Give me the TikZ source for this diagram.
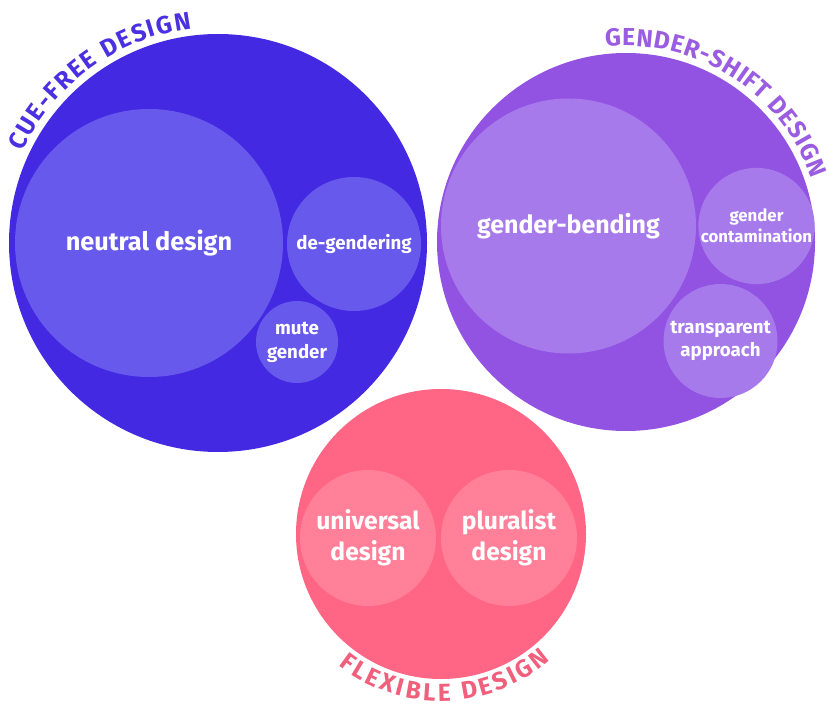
\documentclass[tikz,border=0pt]{standalone}
\usepackage{fontspec}
\setmainfont{Fira Sans}
\usetikzlibrary{calc,decorations.text}

\definecolor{cueOuter}{HTML}{4329E2}
\definecolor{cueInner}{HTML}{6759EC}
\definecolor{shiftOuter}{HTML}{9253E3}
\definecolor{shiftInner}{HTML}{A77AEC}
\definecolor{flexOuter}{HTML}{FF6584}
\definecolor{flexInner}{HTML}{FF8098}
\definecolor{cueLabel}{HTML}{4A30E0}
\definecolor{shiftLabel}{HTML}{9A5CE0}
\definecolor{flexLabel}{HTML}{F0607C}

\newcommand{\arclabelfont}{\bfseries\fontsize{18.5pt}{21pt}\selectfont}

\begin{document}
\begin{tikzpicture}[x=0.75pt,y=0.75pt,
  bubble/.style={circle, draw=none, inner sep=0pt, text=white, align=center,
    font=\bfseries},
  arclabel/.style={decorate, decoration={text along path, text align={fit to path}}}]
\useasboundingbox (0,0) rectangle (827,704);

% outer groups
\node[bubble, fill=cueOuter,   minimum size=313.5pt] (cue)   at (218,461) {};
\node[bubble, fill=shiftOuter, minimum size=283.5pt] (shift) at (626,462) {};
\node[bubble, fill=flexOuter,  minimum size=217.5pt] (flex)  at (441,170) {};

% cue-free design members
\node[bubble, fill=cueInner, minimum size=201pt,
  font=\bfseries\fontsize{19pt}{22pt}\selectfont] (neutral) at (149,461) {neutral design};
\node[bubble, fill=cueInner, minimum size=100.5pt,
  font=\bfseries\fontsize{14pt}{17pt}\selectfont] (degender) at (354,460) {de-gendering};
\node[bubble, fill=cueInner, minimum size=61.5pt,
  font=\bfseries\fontsize{14pt}{18pt}\selectfont] (mute) at (297,362) {mute\\gender};

% gender-shift design members
\node[bubble, fill=shiftInner, minimum size=191.25pt,
  font=\bfseries\fontsize{18.7pt}{22pt}\selectfont] (bending) at (568.5,478) {gender-bending};
\node[bubble, fill=shiftInner, minimum size=84.75pt,
  font=\bfseries\fontsize{12.6pt}{16pt}\selectfont] (contam) at (756.5,478) {gender\\contamination};
\node[bubble, fill=shiftInner, minimum size=85.5pt,
  font=\bfseries\fontsize{14pt}{17.5pt}\selectfont] (transp) at (720.5,363) {transparent\\approach};

% flexible design members
\node[bubble, fill=flexInner, minimum size=102pt,
  font=\bfseries\fontsize{18.5pt}{23pt}\selectfont] (universal) at (368,166) {universal\\design};
\node[bubble, fill=flexInner, minimum size=102pt,
  font=\bfseries\fontsize{18.5pt}{23pt}\selectfont] (pluralist) at (509,166) {pluralist\\design};

% curved group titles
\path[arclabel, decoration={text={|\arclabelfont\color{cueLabel}|CUE-FREE DESIGN}}]
  ($(cue)+(155:216)$) arc[start angle=155, end angle=97, radius=216];
\path[arclabel, decoration={text={|\arclabelfont\color{shiftLabel}|GENDER-SHIFT DESIGN}}]
  ($(shift)+(96:196)$) arc[start angle=96, end angle=19, radius=196];
\path[arclabel, decoration={text={|\arclabelfont\color{flexLabel}|FLEXIBLE DESIGN}}]
  ($(flex)+(232:167)$) arc[start angle=232, end angle=311, radius=167];
\end{tikzpicture}
\end{document}
